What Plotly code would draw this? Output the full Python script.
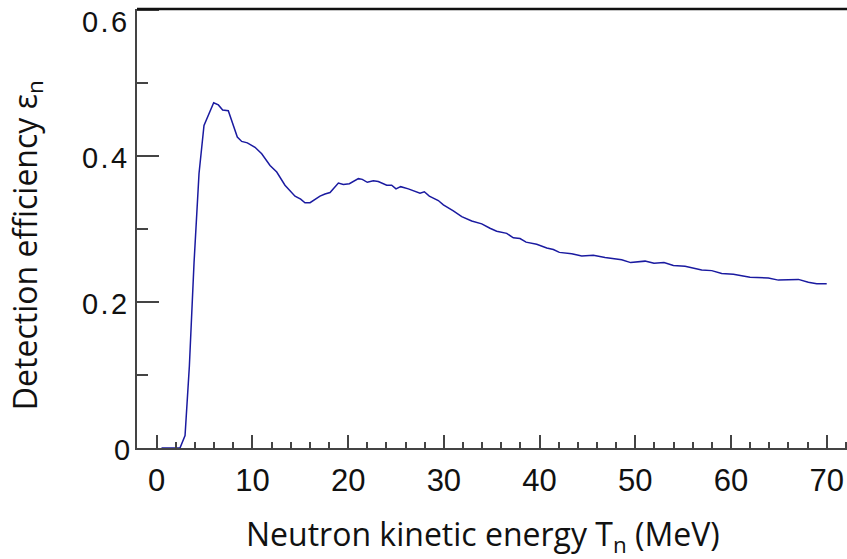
import plotly.graph_objects as go

# Neutron kinetic energy (MeV) and detection efficiency
energy = [0.5, 1.0, 1.5, 2.0, 2.43, 2.96, 3.41, 3.90, 4.42, 4.94, 5.46, 5.95, 6.44, 6.89,
          7.48, 7.90, 8.42, 8.88, 9.47, 10.27, 10.97, 11.84, 12.54, 13.40, 14.45, 15.04,
          15.49, 16.02, 17.06, 17.58, 18.11, 18.98, 19.50, 20.13, 21.07, 21.48, 22.00,
          22.63, 23.15, 24.03, 24.55, 25.00, 25.49, 26.29, 26.99, 27.51, 27.96, 28.48,
          29.42, 29.95, 30.99, 31.87, 32.91, 33.96, 34.82, 35.52, 36.57, 37.26, 37.96,
          38.59, 39.70, 40.75, 41.44, 42.07, 43.36, 44.41, 45.62, 46.84, 48.58, 49.52,
          51.02, 51.96, 53.00, 53.98, 55.20, 56.94, 57.99, 59.03, 60.25, 61.99, 63.90,
          64.95, 67.04, 68.08, 68.96, 70.0]
efficiency = [0.0, 0.0, 0.0, 0.0, 0.0, 0.017, 0.112, 0.254, 0.376, 0.442, 0.457, 0.473,
              0.470, 0.463, 0.462, 0.447, 0.426, 0.420, 0.418, 0.412, 0.403, 0.387, 0.378,
              0.360, 0.345, 0.341, 0.336, 0.336, 0.345, 0.348, 0.350, 0.363, 0.361, 0.362,
              0.369, 0.368, 0.364, 0.366, 0.365, 0.360, 0.360, 0.355, 0.358, 0.355, 0.352,
              0.349, 0.351, 0.345, 0.339, 0.333, 0.325, 0.317, 0.311, 0.307, 0.301, 0.297,
              0.294, 0.288, 0.287, 0.282, 0.279, 0.274, 0.272, 0.268, 0.266, 0.263, 0.264,
              0.261, 0.258, 0.254, 0.256, 0.253, 0.254, 0.250, 0.249, 0.244, 0.243, 0.239,
              0.238, 0.234, 0.233, 0.230, 0.231, 0.227, 0.225, 0.225]

x_ticks = [0, 10, 20, 30, 40, 50, 60, 70]
y_ticks = [0, 0.2, 0.4, 0.6]
y_tick_text = ["0", "0.2", "0.4", "0.6"]

X_TICK_FONT = dict(family="Liberation Sans, Arial, sans-serif", size=31, color="#111")
Y_TICK_FONT = dict(family="Liberation Sans, Arial, sans-serif", size=29, color="#111")
TITLE_FONT = dict(family="Open Sans, Noto Sans, sans-serif", size=32, color="#111")
AXIS_GREY = "#444"

fig = go.Figure()
fig.add_trace(go.Scatter(
    x=energy, y=efficiency, mode="lines",
    line=dict(color="#1a1aa0", width=1.5),
    showlegend=False, hoverinfo="skip",
))

# y tick labels: loosely set, a little below their ticks; the top one pulled inside the page
y_label_notes = []
for val, txt in zip(y_ticks, y_tick_text):
    spaced = "\u200a.\u200a".join(txt.split("."))
    y_label_notes.append(dict(
        text=spaced, xref="paper", yref="y", x=0, y=val,
        xanchor="right", yanchor="middle",
        xshift=-5 if val == 0 else -8,
        yshift=-12 if val == max(y_ticks) else -2,
        showarrow=False, font=Y_TICK_FONT,
    ))

fig.update_layout(
    width=847, height=559,
    margin=dict(l=137, r=0, t=9, b=111),
    paper_bgcolor="white", plot_bgcolor="white",
    xaxis=dict(
        range=[-2.06, 72.12], tickvals=x_ticks, ticks="inside", ticklen=13,
        tickwidth=2, tickcolor=AXIS_GREY, showline=True, linecolor=AXIS_GREY, linewidth=2,
        showgrid=False, zeroline=False, tickfont=X_TICK_FONT, ticklabelstandoff=4,
        minor=dict(dtick=2, tick0=0, ticks="inside", ticklen=6, tickwidth=1.5,
                   tickcolor=AXIS_GREY, showgrid=False),
    ),
    yaxis=dict(
        range=[0, 0.6014], tickvals=y_ticks, showticklabels=False, ticks="inside",
        ticklen=22, tickwidth=2, tickcolor=AXIS_GREY, showline=True, linecolor=AXIS_GREY,
        linewidth=2, showgrid=False, zeroline=False,
        minor=dict(dtick=0.1, tick0=0, ticks="inside", ticklen=11, tickwidth=1.5,
                   tickcolor=AXIS_GREY, showgrid=False),
    ),
    shapes=[dict(type="line", xref="paper", yref="paper", x0=0, x1=1, y0=1, y1=1,
                 line=dict(color="#111", width=2.5))],
    annotations=y_label_notes + [
        dict(text="Neutron kinetic energy T<sub>n</sub> (MeV)", xref="paper", yref="paper",
             x=0.487, y=-0.2, xanchor="center", yanchor="middle", showarrow=False,
             font=TITLE_FONT),
        dict(text="Detection efficiency ε<sub>n</sub>", xref="paper", yref="paper",
             x=-0.155, y=0.462, xanchor="center", yanchor="middle", textangle=-90,
             showarrow=False, font=TITLE_FONT),
    ],
)

fig.write_html("out.html")
